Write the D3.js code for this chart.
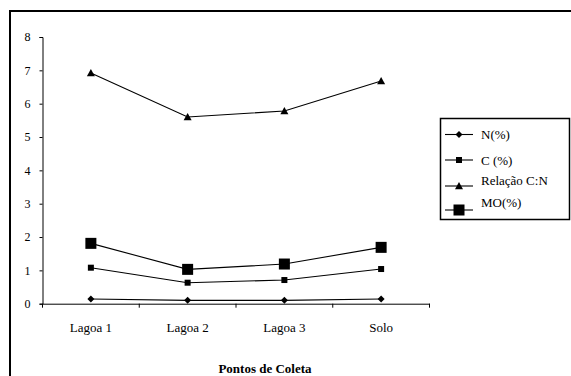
<!DOCTYPE html>
<html>
<head>
<meta charset="utf-8">
<script src="https://cdn.jsdelivr.net/npm/d3@7"></script>
<style>
  body { margin: 0; background: #fff; }
  svg text { font-family: "Liberation Serif", serif; fill: #000; }
</style>
</head>
<body>
<div id="chart"></div>
<script>
// dados
const categories = ["Lagoa 1", "Lagoa 2", "Lagoa 3", "Solo"];
const seriesNames = ["N(%)", "C (%)", "Relação C:N", "MO(%)"];
const nValues = [0.14, 0.10, 0.10, 0.14];
const cValues = [1.08, 0.63, 0.71, 1.04];
const cnValues = [6.92, 5.60, 5.78, 6.68];
const moValues = [1.81, 1.03, 1.19, 1.69];
const yTicks = [0, 1, 2, 3, 4, 5, 6, 7, 8];
const xTitle = "Pontos de Coleta";

const series = [
  { name: seriesNames[0], values: nValues, shape: "diamond", size: 7 },
  { name: seriesNames[1], values: cValues, shape: "square", size: 6 },
  { name: seriesNames[2], values: cnValues, shape: "triangle", size: 8 },
  { name: seriesNames[3], values: moValues, shape: "square", size: 11 },
];

const W = 571, H = 376;
const serif = '"Liberation Serif", serif';

const svg = d3.select("#chart").append("svg")
  .attr("width", W).attr("height", H);

// moldura externa (cortada à direita e embaixo)
svg.append("rect")
  .attr("x", 10).attr("y", 11)
  .attr("width", 580).attr("height", 400)
  .attr("fill", "none").attr("stroke", "#000").attr("stroke-width", 2);

const x = d3.scaleBand().domain(categories).range([42.5, 429.5]);
const y = d3.scaleLinear().domain([0, 8]).range([303.7, 37]);

const g = svg.append("g");

// eixo y
const yAxis = g.append("g")
  .attr("transform", "translate(42.5,0)")
  .attr("font-family", serif)
  .call(d3.axisLeft(y).tickValues(yTicks).tickSize(3).tickPadding(9));
yAxis.selectAll("text").style("font-size", "12px");

// eixo x
const xAxis = g.append("g")
  .attr("transform", `translate(0,${y(0)})`)
  .attr("font-family", serif)
  .call(d3.axisBottom(x).tickSize(0).tickPadding(19));
xAxis.selectAll("text").style("font-size", "13px");
// marcas entre categorias
xAxis.selectAll(".sep")
  .data(categories.concat(["end"]))
  .enter().append("line")
  .attr("class", "sep")
  .attr("x1", (d, i) => x.range()[0] + i * x.bandwidth())
  .attr("x2", (d, i) => x.range()[0] + i * x.bandwidth())
  .attr("y1", 0).attr("y2", 4)
  .attr("stroke", "#000");
g.selectAll(".domain").attr("stroke", "#000");

// título do eixo x
svg.append("text")
  .attr("x", 265).attr("y", 373)
  .attr("text-anchor", "middle")
  .style("font-size", "13px").style("font-weight", "bold")
  .text(xTitle);

const line = d3.line()
  .x((d, i) => x(categories[i]) + x.bandwidth() / 2)
  .y((d) => y(d));

function marker(sel, shape, size) {
  if (shape === "square") {
    sel.append("rect")
      .attr("x", -size / 2).attr("y", -size / 2)
      .attr("width", size).attr("height", size)
      .attr("fill", "#000");
  } else if (shape === "diamond") {
    const s = size / 2;
    sel.append("path")
      .attr("d", `M0,${-s}L${s},0L0,${s}L${-s},0Z`)
      .attr("fill", "#000");
  } else {
    const s = size / 2;
    sel.append("path")
      .attr("d", `M0,${-s}L${s},${s * 0.8}L${-s},${s * 0.8}Z`)
      .attr("fill", "#000");
  }
}

series.forEach((s) => {
  g.append("path")
    .datum(s.values)
    .attr("d", line)
    .attr("fill", "none")
    .attr("stroke", "#000")
    .attr("stroke-width", 1.1);
  s.values.forEach((v, i) => {
    const m = g.append("g")
      .attr("transform", `translate(${x(categories[i]) + x.bandwidth() / 2},${y(v)})`);
    marker(m, s.shape, s.size);
  });
});

// legenda
const legend = svg.append("g");
legend.append("rect")
  .attr("x", 440.5).attr("y", 118.5)
  .attr("width", 129).attr("height", 101)
  .attr("fill", "#fff").attr("stroke", "#000").attr("stroke-width", 1.5);

const legendY = [134.5, 160, 186, 210];
const textY = [134.5, 160, 180.5, 202];
series.forEach((s, i) => {
  const it = legend.append("g");
  it.append("line")
    .attr("x1", 445).attr("x2", 473)
    .attr("y1", legendY[i]).attr("y2", legendY[i])
    .attr("stroke", "#000").attr("stroke-width", 1.1);
  const m = it.append("g").attr("transform", `translate(459,${legendY[i]})`);
  marker(m, s.shape, s.size);
  it.append("text")
    .attr("x", 481).attr("y", textY[i])
    .attr("dy", "0.35em")
    .style("font-size", "13px")
    .text(s.name);
});
</script>
</body>
</html>
